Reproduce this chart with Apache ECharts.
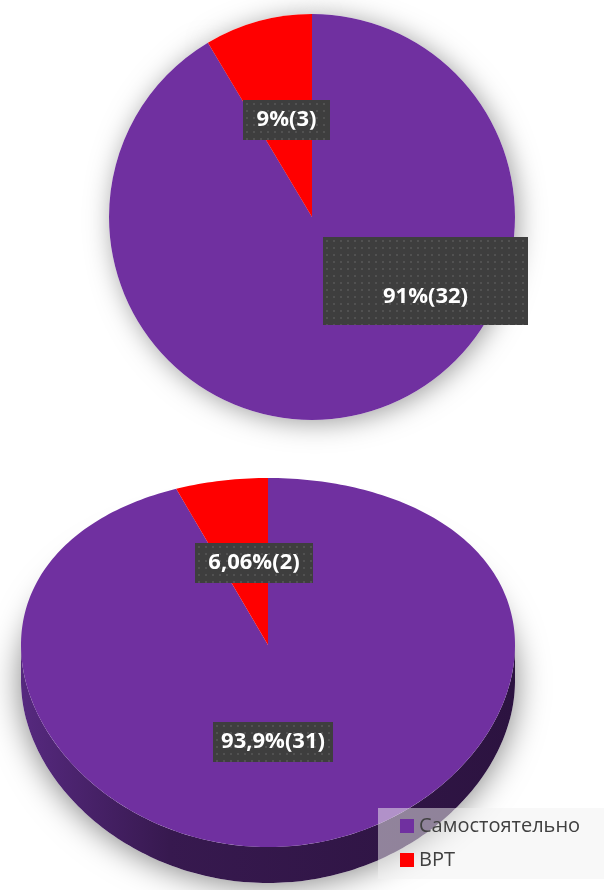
<!DOCTYPE html>
<html>
<head>
<meta charset="utf-8">
<script src="https://cdn.jsdelivr.net/npm/echarts@6/dist/echarts.min.js"></script>
<style>
html, body { margin: 0; padding: 0; background: #fff; }
#main { width: 604px; height: 890px; }
</style>
</head>
<body>
<div id="main"></div>
<script>
// data
var categories = ['Самостоятельно', 'ВРТ'];
var topValues = [32, 3];
var bottomValues = [31, 2];
var bottomLabels = ['93,9%(31)', '6,06%(2)'];
var colors = ['#7030a0', '#ff0000'];

// layout of the label boxes (Excel moved them by hand): centre x, top y
var topLabelPos = [[425.5, 237], [286.5, 100]];
var topLabelBox = [{ w: 205, h: 88, padTop: 49 }, { w: 87, h: 40, padTop: 9 }];
var bottomLabelPos = [[273, 742], [254, 563]];
var bottomLabelW = [120, 118];

// dark dotted fill of the data labels
function dotBox(w, h) {
    var c = document.createElement('canvas');
    c.width = w; c.height = h;
    var ctx = c.getContext('2d');
    ctx.fillStyle = '#3e3e3e';
    ctx.fillRect(0, 0, w, h);
    ctx.fillStyle = '#515151';
    for (var x = 3; x < w; x += 7) {
        for (var y = 3; y < h; y += 7) {
            ctx.fillRect(x, y, 2, 2);
        }
    }
    return c;
}

var labelShadow = {
    shadowBlur: 8,
    shadowColor: 'rgba(0,0,0,0.5)',
    shadowOffsetX: 3,
    shadowOffsetY: 4
};

// ---- 3d pie geometry ----
var P = { cx: 268, cy: 645, rx: 247, b: 184.5, c: 17.5, depth: 36 };
var total = bottomValues.reduce(function (a, v) { return a + v; }, 0);

function proj(t, d) {
    var u = Math.cos(t), v = Math.sin(t);
    return [P.cx + P.rx * u, P.cy + P.b * v + P.c * v * v + (d || 0)];
}
function arc(a0, a1, d) {
    var n = Math.max(2, Math.ceil(Math.abs(a1 - a0) / 0.02));
    var pts = [];
    for (var k = 0; k <= n; k++) {
        pts.push(proj(a0 + (a1 - a0) * k / n, d));
    }
    return pts;
}
function sliceAngles(i) {
    var cum = 0;
    for (var k = 0; k < i; k++) cum += bottomValues[k];
    var a0 = -Math.PI / 2 + 2 * Math.PI * cum / total;
    return [a0, a0 + 2 * Math.PI * bottomValues[i] / total];
}

var sideColors = [
    ['#56297f', '#37194f', '#2c1340'],
    ['#b00000', '#800000', '#600000']
];

function renderSide(params, api) {
    var i = params.dataIndex;
    var a = sliceAngles(i);
    var children = [];
    if (i === 0) {
        // soft drop shadow of the whole disc
        children.push({
            type: 'polygon',
            shape: { points: arc(0, 2 * Math.PI, P.depth) },
            style: {
                fill: '#fff',
                shadowBlur: 32,
                shadowColor: 'rgba(0,0,0,0.5)',
                shadowOffsetY: 2
            }
        });
    }
    [-2 * Math.PI, 0, 2 * Math.PI].forEach(function (off) {
        var s = Math.max(a[0], off), e = Math.min(a[1], off + Math.PI);
        if (e > s) {
            var pts = arc(s, e, 0).concat(arc(e, s, P.depth));
            children.push({
                type: 'polygon',
                shape: { points: pts },
                style: {
                    fill: new echarts.graphic.LinearGradient(0, 0, 1, 0, [
                        { offset: 0, color: sideColors[i][0] },
                        { offset: 0.3, color: sideColors[i][1] },
                        { offset: 1, color: sideColors[i][2] }
                    ])
                }
            });
        }
    });
    return { type: 'group', children: children };
}

function renderTop(params, api) {
    var i = params.dataIndex;
    var a = sliceAngles(i);
    var pts = [[P.cx, P.cy]].concat(arc(a[0], a[1], 0));
    var w = bottomLabelW[i];
    return {
        type: 'group',
        children: [
            { type: 'polygon', shape: { points: pts }, style: { fill: colors[i] } },
            {
                type: 'text',
                z2: 100,
                style: Object.assign({
                    text: bottomLabels[i],
                    x: bottomLabelPos[i][0],
                    y: bottomLabelPos[i][1],
                    align: 'center',
                    verticalAlign: 'middle',
                    fill: '#fff',
                    fontSize: 22,
                    fontWeight: 'bold',
                    fontFamily: 'Open Sans',
                    lineHeight: 22,
                    width: w,
                    padding: [9, 0, 9, 0],
                    backgroundColor: { image: dotBox(w, 40) }
                }, labelShadow)
            }
        ]
    };
}

var myChart = echarts.init(document.getElementById('main'));

var option = {
    animation: false,
    color: colors,
    legend: {
        data: categories,
        orient: 'vertical',
        left: 378,
        top: 808,
        padding: [8, 40, 9, 22],
        itemGap: 14,
        itemWidth: 14,
        itemHeight: 14,
        icon: 'rect',
        backgroundColor: 'rgba(242,242,242,0.5)',
        textStyle: {
            fontSize: 20,
            lineHeight: 18,
            color: '#404040',
            fontFamily: 'Open Sans'
        }
    },
    series: [
        {
            // shadow under the flat pie
            type: 'pie',
            silent: true,
            center: [312, 217],
            radius: 203,
            startAngle: 90,
            label: { show: false },
            itemStyle: {
                color: '#fff',
                shadowBlur: 26,
                shadowColor: 'rgba(0,0,0,0.38)',
                shadowOffsetX: 3,
                shadowOffsetY: 3
            },
            data: topValues.slice()
        },
        {
            name: 'top',
            type: 'pie',
            center: [312, 217],
            radius: 203,
            startAngle: 90,
            percentPrecision: 0,
            emphasis: { disabled: true },
            label: Object.assign({
                show: true,
                position: 'inside',
                formatter: '{d}%({c})',
                color: '#fff',
                fontSize: 22,
                fontWeight: 'bold',
                fontFamily: 'Open Sans'
            }, labelShadow),
            labelLine: { show: false },
            labelLayout: function (params) {
                var p = topLabelPos[params.dataIndex];
                return { x: p[0], y: p[1], align: 'center', verticalAlign: 'top' };
            },
            data: categories.map(function (name, i) {
                var b = topLabelBox[i];
                return {
                    name: name,
                    value: topValues[i],
                    label: {
                        width: b.w,
                        lineHeight: 22,
                        align: 'center',
                        padding: [b.padTop, 0, b.h - b.padTop - 22, 0],
                        backgroundColor: { image: dotBox(b.w, b.h) }
                    }
                };
            })
        },
        {
            name: 'side',
            type: 'custom',
            coordinateSystem: 'none',
            silent: true,
            renderItem: renderSide,
            data: bottomValues.map(function (v) { return [v]; })
        },
        {
            name: 'bottom',
            type: 'custom',
            coordinateSystem: 'none',
            silent: true,
            renderItem: renderTop,
            data: bottomValues.map(function (v) { return [v]; })
        }
    ]
};

myChart.setOption(option);
</script>
</body>
</html>
